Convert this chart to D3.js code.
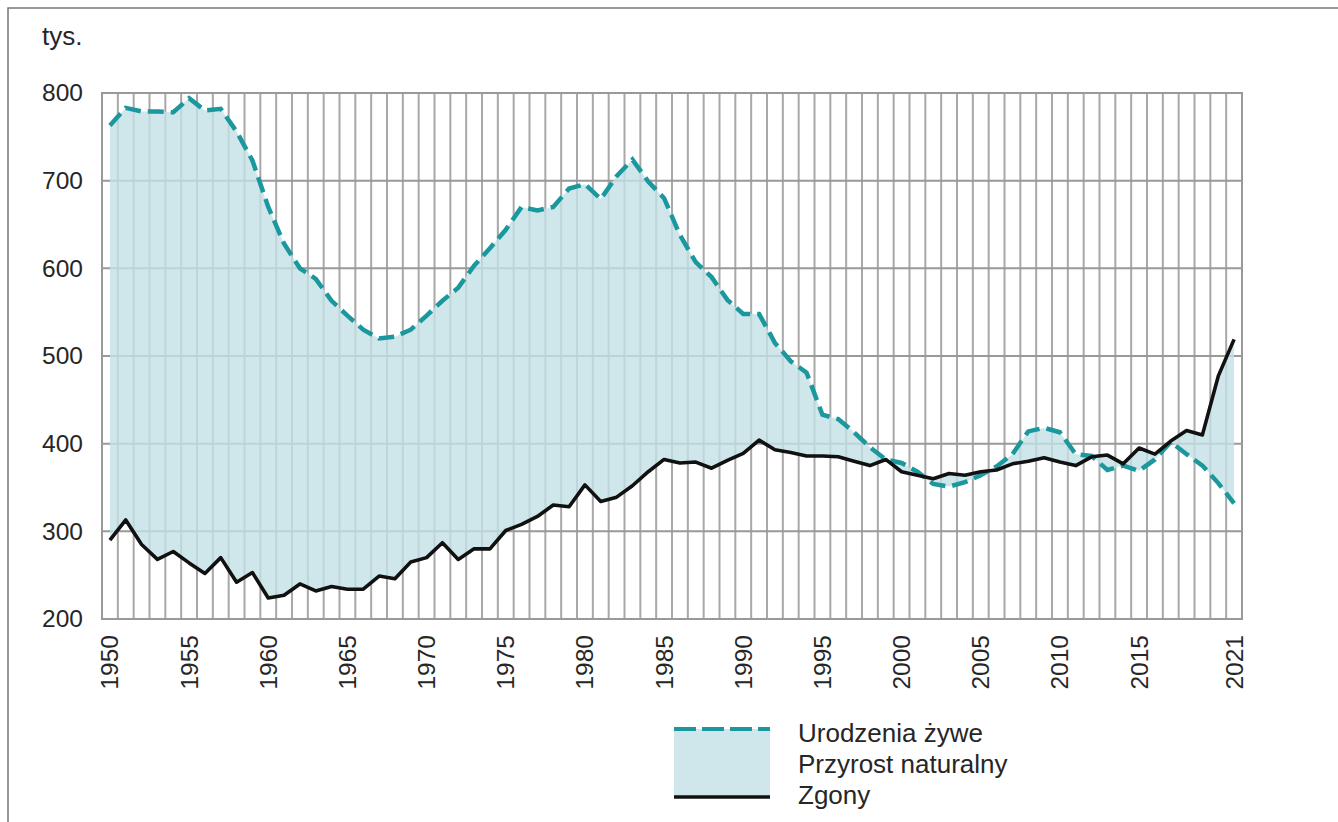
<!DOCTYPE html>
<html>
<head>
<meta charset="utf-8">
<script src="https://cdn.jsdelivr.net/npm/d3@7"></script>
<style>
  body { margin: 0; background: #fff; }
  text { font-family: "Liberation Sans", Arial, sans-serif; fill: #262626; }
</style>
</head>
<body>
<div id="chart"></div>
<script>
const years = d3.range(1950, 2022)

const births = [
  763, 783, 779, 779, 778, 794, 780, 782, 756, 723,
  670, 628, 600, 588, 563, 546, 530, 520, 522, 530,
  546, 563, 578, 603, 623, 644, 670, 666, 670, 691,
  696, 679, 705, 724, 699, 680, 638, 607, 590, 564,
  548, 548, 515, 494, 481, 433, 428, 413, 396, 382,
  378, 368, 354, 351, 356, 364, 374, 388, 414, 418,
  413, 388, 386, 370, 375, 369, 382, 402, 388, 375,
  355, 332
]

const deaths = [
  290, 313, 285, 268, 277, 264, 252, 270, 242, 253,
  224, 227, 240, 232, 237, 234, 234, 249, 246, 265,
  270, 287, 268, 280, 280, 301, 308, 317, 330, 328,
  353, 334, 339, 352, 368, 382, 378, 379, 372, 381,
  389, 404, 393, 390, 386, 386, 385, 380, 375, 382,
  368, 364, 360, 366, 364, 368, 370, 377, 380, 384,
  379, 375, 385, 387, 377, 395, 388, 403, 415, 410,
  477, 519
]

const yTicks = [200, 300, 400, 500, 600, 700, 800]
const xLabels = [1950, 1955, 1960, 1965, 1970, 1975, 1980, 1985, 1990, 1995, 2000, 2005, 2010, 2015, 2021]
const legendLabels = ['Urodzenia żywe', 'Przyrost naturalny', 'Zgony']

const width = 1338
const height = 822
const plot = { left: 102, right: 1242, top: 93, bottom: 619 }

const teal = '#1b989e'
const fillColor = '#c3e1e6'
const gridColor = '#a8a8a8'

const svg = d3.select('#chart')
  .append('svg')
  .attr('width', width)
  .attr('height', height)

// image frame
svg.append('rect')
  .attr('x', 8)
  .attr('y', 8)
  .attr('width', width)
  .attr('height', height)
  .attr('fill', 'none')
  .attr('stroke', '#777')
  .attr('stroke-width', 1.5)

const xScale = d3.scaleBand()
  .domain(years)
  .range([plot.left, plot.right])
  .padding(0)

const xMid = (yr) => xScale(yr) + xScale.bandwidth() / 2

const yScale = d3.scaleLinear()
  .domain([200, 800])
  .range([plot.bottom, plot.top])

const data = years.map((yr, i) => ({ year: yr, births: births[i], deaths: deaths[i] }))

// vertical grid at band boundaries
const grid = svg.append('g')
grid.selectAll('line.v')
  .data(years.slice(1))
  .join('line')
  .attr('class', 'v')
  .attr('x1', (d) => xScale(d))
  .attr('x2', (d) => xScale(d))
  .attr('y1', plot.top)
  .attr('y2', plot.bottom)
  .attr('stroke', gridColor)
  .attr('stroke-width', 2)

grid.selectAll('line.h')
  .data(yTicks)
  .join('line')
  .attr('class', 'h')
  .attr('x1', plot.left)
  .attr('x2', plot.right)
  .attr('y1', (d) => yScale(d))
  .attr('y2', (d) => yScale(d))
  .attr('stroke', '#999')
  .attr('stroke-width', 2)

grid.append('rect')
  .attr('x', plot.left)
  .attr('y', plot.top)
  .attr('width', plot.right - plot.left)
  .attr('height', plot.bottom - plot.top)
  .attr('fill', 'none')
  .attr('stroke', '#999')
  .attr('stroke-width', 2)

// natural increase band
const area = d3.area()
  .x((d) => xMid(d.year))
  .y0((d) => yScale(d.deaths))
  .y1((d) => yScale(d.births))

svg.append('path')
  .attr('d', area(data))
  .attr('fill', fillColor)
  .attr('fill-opacity', 0.8)

const birthLine = d3.line()
  .x((d) => xMid(d.year))
  .y((d) => yScale(d.births))

const deathLine = d3.line()
  .x((d) => xMid(d.year))
  .y((d) => yScale(d.deaths))

svg.append('path')
  .attr('d', birthLine(data))
  .attr('fill', 'none')
  .attr('stroke', teal)
  .attr('stroke-width', 4.5)
  .attr('stroke-dasharray', '16,7')

svg.append('path')
  .attr('d', deathLine(data))
  .attr('fill', 'none')
  .attr('stroke', '#111')
  .attr('stroke-width', 3.6)
  .attr('stroke-linejoin', 'round')

// y axis labels
const yAxis = d3.axisLeft(yScale)
  .tickValues(yTicks)
  .tickSize(0)
  .tickPadding(19)

svg.append('g')
  .attr('transform', `translate(${plot.left}, 0)`)
  .call(yAxis)
  .call((g) => g.select('.domain').remove())
  .selectAll('text')
  .style('font-size', '24.5px')
  .attr('fill', '#262626')

svg.append('text')
  .attr('x', 42)
  .attr('y', 45)
  .style('font-size', '26px')
  .text('tys.')

// x axis labels, rotated
const xAxis = d3.axisBottom(xScale)
  .tickValues(xLabels)
  .tickSize(0)
  .tickPadding(0)

svg.append('g')
  .attr('transform', `translate(0, ${plot.bottom})`)
  .call(xAxis)
  .call((g) => g.select('.domain').remove())
  .selectAll('text')
  .style('font-size', '24.5px')
  .attr('fill', '#262626')
  .attr('text-anchor', 'end')
  .attr('dy', '0.35em')
  .attr('transform', 'translate(0, 16) rotate(-90)')

// legend
const legend = svg.append('g').attr('transform', 'translate(674, 729)')

legend.append('rect')
  .attr('x', 0)
  .attr('y', 0)
  .attr('width', 96)
  .attr('height', 68)
  .attr('fill', '#cfe7eb')

legend.append('line')
  .attr('x1', 0)
  .attr('x2', 96)
  .attr('y1', 0)
  .attr('y2', 0)
  .attr('stroke', teal)
  .attr('stroke-width', 4)
  .attr('stroke-dasharray', '22,6')

legend.append('line')
  .attr('x1', 0)
  .attr('x2', 96)
  .attr('y1', 68)
  .attr('y2', 68)
  .attr('stroke', '#111')
  .attr('stroke-width', 3.5)

legend.selectAll('text')
  .data(legendLabels)
  .join('text')
  .attr('x', 124)
  .attr('y', (d, i) => 13 + i * 31)
  .style('font-size', '26px')
  .text((d) => d)
</script>
</body>
</html>
